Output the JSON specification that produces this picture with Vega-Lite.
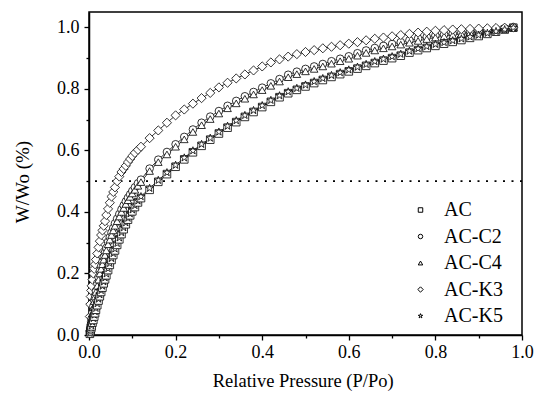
{
  "$schema": "https://vega.github.io/schema/vega-lite/v6.json",
  "width": 433,
  "height": 323,
  "autosize": {"type": "none"},
  "padding": {"left": 89, "top": 12, "right": 13, "bottom": 63},
  "background": "white",
  "config": {
    "font": "serif",
    "view": {"stroke": "black", "strokeWidth": 1.5},
    "axis": {
      "domainColor": "black", "domainWidth": 1.5, "tickColor": "black", "tickWidth": 1.3,
      "tickSize": 5, "labelColor": "black", "titleColor": "black",
      "labelFont": "serif", "titleFont": "serif",
      "labelFontSize": 18, "titleFontWeight": "normal", "grid": false
    }
  },
  "data": {"values": [
    {"p":0.002,"AC":0.004,"AC-C2":0.013,"AC-C4":0.010,"AC-K3":0.060,"AC-K5":0.006},
    {"p":0.003,"AC":0.010,"AC-C2":0.023,"AC-C4":0.020,"AC-K3":0.100,"AC-K5":0.012},
    {"p":0.004,"AC":0.016,"AC-C2":0.033,"AC-C4":0.030,"AC-K3":0.125,"AC-K5":0.018},
    {"p":0.005,"AC":0.022,"AC-C2":0.043,"AC-C4":0.040,"AC-K3":0.145,"AC-K5":0.024},
    {"p":0.006,"AC":0.028,"AC-C2":0.053,"AC-C4":0.050,"AC-K3":0.160,"AC-K5":0.030},
    {"p":0.008,"AC":0.040,"AC-C2":0.073,"AC-C4":0.070,"AC-K3":0.180,"AC-K5":0.042},
    {"p":0.010,"AC":0.049,"AC-C2":0.093,"AC-C4":0.090,"AC-K3":0.200,"AC-K5":0.054},
    {"p":0.012,"AC":0.060,"AC-C2":0.113,"AC-C4":0.110,"AC-K3":0.215,"AC-K5":0.065},
    {"p":0.014,"AC":0.071,"AC-C2":0.128,"AC-C4":0.125,"AC-K3":0.230,"AC-K5":0.076},
    {"p":0.016,"AC":0.082,"AC-C2":0.143,"AC-C4":0.140,"AC-K3":0.245,"AC-K5":0.087},
    {"p":0.019,"AC":0.097,"AC-C2":0.168,"AC-C4":0.160,"AC-K3":0.265,"AC-K5":0.102},
    {"p":0.022,"AC":0.112,"AC-C2":0.188,"AC-C4":0.180,"AC-K3":0.285,"AC-K5":0.117},
    {"p":0.025,"AC":0.126,"AC-C2":0.208,"AC-C4":0.200,"AC-K3":0.305,"AC-K5":0.131},
    {"p":0.028,"AC":0.140,"AC-C2":0.223,"AC-C4":0.215,"AC-K3":0.325,"AC-K5":0.145},
    {"p":0.031,"AC":0.154,"AC-C2":0.238,"AC-C4":0.230,"AC-K3":0.340,"AC-K5":0.159},
    {"p":0.034,"AC":0.168,"AC-C2":0.253,"AC-C4":0.245,"AC-K3":0.355,"AC-K5":0.173},
    {"p":0.037,"AC":0.181,"AC-C2":0.268,"AC-C4":0.260,"AC-K3":0.370,"AC-K5":0.186},
    {"p":0.040,"AC":0.194,"AC-C2":0.283,"AC-C4":0.275,"AC-K3":0.390,"AC-K5":0.199},
    {"p":0.044,"AC":0.211,"AC-C2":0.303,"AC-C4":0.295,"AC-K3":0.410,"AC-K5":0.216},
    {"p":0.048,"AC":0.228,"AC-C2":0.318,"AC-C4":0.310,"AC-K3":0.430,"AC-K5":0.233},
    {"p":0.052,"AC":0.244,"AC-C2":0.333,"AC-C4":0.325,"AC-K3":0.450,"AC-K5":0.249},
    {"p":0.056,"AC":0.260,"AC-C2":0.348,"AC-C4":0.340,"AC-K3":0.465,"AC-K5":0.265},
    {"p":0.060,"AC":0.275,"AC-C2":0.363,"AC-C4":0.355,"AC-K3":0.480,"AC-K5":0.280},
    {"p":0.065,"AC":0.293,"AC-C2":0.378,"AC-C4":0.370,"AC-K3":0.500,"AC-K5":0.298},
    {"p":0.070,"AC":0.311,"AC-C2":0.393,"AC-C4":0.385,"AC-K3":0.515,"AC-K5":0.316},
    {"p":0.075,"AC":0.328,"AC-C2":0.408,"AC-C4":0.400,"AC-K3":0.530,"AC-K5":0.333},
    {"p":0.080,"AC":0.344,"AC-C2":0.421,"AC-C4":0.413,"AC-K3":0.540,"AC-K5":0.349},
    {"p":0.085,"AC":0.360,"AC-C2":0.434,"AC-C4":0.426,"AC-K3":0.550,"AC-K5":0.365},
    {"p":0.090,"AC":0.375,"AC-C2":0.446,"AC-C4":0.438,"AC-K3":0.562,"AC-K5":0.380},
    {"p":0.095,"AC":0.389,"AC-C2":0.457,"AC-C4":0.449,"AC-K3":0.572,"AC-K5":0.394},
    {"p":0.100,"AC":0.402,"AC-C2":0.468,"AC-C4":0.460,"AC-K3":0.582,"AC-K5":0.407},
    {"p":0.106,"AC":0.416,"AC-C2":0.480,"AC-C4":0.472,"AC-K3":0.592,"AC-K5":0.421},
    {"p":0.113,"AC":0.431,"AC-C2":0.493,"AC-C4":0.485,"AC-K3":0.602,"AC-K5":0.436},
    {"p":0.12,"AC":0.445,"AC-C2":0.505,"AC-C4":0.497,"AC-K3":0.612,"AC-K5":0.450},
    {"p":0.14,"AC":0.472,"AC-C2":0.541,"AC-C4":0.533,"AC-K3":0.640,"AC-K5":0.477},
    {"p":0.16,"AC":0.498,"AC-C2":0.570,"AC-C4":0.562,"AC-K3":0.665,"AC-K5":0.503},
    {"p":0.18,"AC":0.523,"AC-C2":0.595,"AC-C4":0.587,"AC-K3":0.690,"AC-K5":0.528},
    {"p":0.20,"AC":0.547,"AC-C2":0.620,"AC-C4":0.612,"AC-K3":0.714,"AC-K5":0.552},
    {"p":0.22,"AC":0.571,"AC-C2":0.644,"AC-C4":0.636,"AC-K3":0.733,"AC-K5":0.576},
    {"p":0.24,"AC":0.594,"AC-C2":0.668,"AC-C4":0.660,"AC-K3":0.752,"AC-K5":0.599},
    {"p":0.26,"AC":0.615,"AC-C2":0.690,"AC-C4":0.682,"AC-K3":0.770,"AC-K5":0.620},
    {"p":0.28,"AC":0.635,"AC-C2":0.710,"AC-C4":0.702,"AC-K3":0.787,"AC-K5":0.640},
    {"p":0.30,"AC":0.655,"AC-C2":0.728,"AC-C4":0.720,"AC-K3":0.805,"AC-K5":0.660},
    {"p":0.32,"AC":0.674,"AC-C2":0.745,"AC-C4":0.737,"AC-K3":0.820,"AC-K5":0.679},
    {"p":0.34,"AC":0.692,"AC-C2":0.761,"AC-C4":0.753,"AC-K3":0.834,"AC-K5":0.697},
    {"p":0.36,"AC":0.709,"AC-C2":0.776,"AC-C4":0.768,"AC-K3":0.847,"AC-K5":0.714},
    {"p":0.38,"AC":0.725,"AC-C2":0.790,"AC-C4":0.782,"AC-K3":0.860,"AC-K5":0.730},
    {"p":0.40,"AC":0.741,"AC-C2":0.804,"AC-C4":0.796,"AC-K3":0.873,"AC-K5":0.746},
    {"p":0.42,"AC":0.758,"AC-C2":0.818,"AC-C4":0.810,"AC-K3":0.886,"AC-K5":0.763},
    {"p":0.44,"AC":0.773,"AC-C2":0.832,"AC-C4":0.824,"AC-K3":0.896,"AC-K5":0.778},
    {"p":0.46,"AC":0.786,"AC-C2":0.846,"AC-C4":0.838,"AC-K3":0.905,"AC-K5":0.791},
    {"p":0.48,"AC":0.797,"AC-C2":0.856,"AC-C4":0.848,"AC-K3":0.913,"AC-K5":0.802},
    {"p":0.50,"AC":0.808,"AC-C2":0.865,"AC-C4":0.857,"AC-K3":0.920,"AC-K5":0.813},
    {"p":0.52,"AC":0.819,"AC-C2":0.873,"AC-C4":0.865,"AC-K3":0.926,"AC-K5":0.824},
    {"p":0.54,"AC":0.829,"AC-C2":0.881,"AC-C4":0.873,"AC-K3":0.932,"AC-K5":0.834},
    {"p":0.56,"AC":0.839,"AC-C2":0.890,"AC-C4":0.882,"AC-K3":0.937,"AC-K5":0.844},
    {"p":0.58,"AC":0.848,"AC-C2":0.898,"AC-C4":0.890,"AC-K3":0.942,"AC-K5":0.853},
    {"p":0.60,"AC":0.857,"AC-C2":0.906,"AC-C4":0.898,"AC-K3":0.947,"AC-K5":0.862},
    {"p":0.62,"AC":0.866,"AC-C2":0.916,"AC-C4":0.908,"AC-K3":0.952,"AC-K5":0.871},
    {"p":0.64,"AC":0.875,"AC-C2":0.925,"AC-C4":0.917,"AC-K3":0.958,"AC-K5":0.880},
    {"p":0.66,"AC":0.884,"AC-C2":0.933,"AC-C4":0.925,"AC-K3":0.963,"AC-K5":0.889},
    {"p":0.68,"AC":0.892,"AC-C2":0.940,"AC-C4":0.932,"AC-K3":0.967,"AC-K5":0.897},
    {"p":0.70,"AC":0.900,"AC-C2":0.946,"AC-C4":0.938,"AC-K3":0.971,"AC-K5":0.905},
    {"p":0.72,"AC":0.908,"AC-C2":0.952,"AC-C4":0.944,"AC-K3":0.975,"AC-K5":0.913},
    {"p":0.74,"AC":0.918,"AC-C2":0.958,"AC-C4":0.950,"AC-K3":0.979,"AC-K5":0.923},
    {"p":0.76,"AC":0.926,"AC-C2":0.964,"AC-C4":0.956,"AC-K3":0.983,"AC-K5":0.931},
    {"p":0.78,"AC":0.933,"AC-C2":0.969,"AC-C4":0.962,"AC-K3":0.986,"AC-K5":0.938},
    {"p":0.80,"AC":0.940,"AC-C2":0.974,"AC-C4":0.967,"AC-K3":0.989,"AC-K5":0.945},
    {"p":0.82,"AC":0.947,"AC-C2":0.977,"AC-C4":0.971,"AC-K3":0.991,"AC-K5":0.951},
    {"p":0.84,"AC":0.953,"AC-C2":0.980,"AC-C4":0.975,"AC-K3":0.993,"AC-K5":0.957},
    {"p":0.86,"AC":0.959,"AC-C2":0.983,"AC-C4":0.979,"AC-K3":0.994,"AC-K5":0.963},
    {"p":0.88,"AC":0.966,"AC-C2":0.986,"AC-C4":0.983,"AC-K3":0.995,"AC-K5":0.969},
    {"p":0.90,"AC":0.972,"AC-C2":0.989,"AC-C4":0.986,"AC-K3":0.996,"AC-K5":0.975},
    {"p":0.92,"AC":0.979,"AC-C2":0.991,"AC-C4":0.989,"AC-K3":0.997,"AC-K5":0.981},
    {"p":0.94,"AC":0.986,"AC-C2":0.994,"AC-C4":0.992,"AC-K3":0.998,"AC-K5":0.987},
    {"p":0.96,"AC":0.993,"AC-C2":0.997,"AC-C4":0.996,"AC-K3":0.999,"AC-K5":0.993},
    {"p":0.98,"AC":0.999,"AC-C2":1.000,"AC-C4":1.000,"AC-K3":1.000,"AC-K5":0.999}
  ]},
  "layer": [
    {
      "data": {"values": [{}]},
      "mark": {"type": "rule", "color": "black", "strokeWidth": 1.8, "strokeDash": [2, 6.5]},
      "encoding": {"y": {"datum": 0.5, "type": "quantitative", "scale": {"domain": [0, 1.05], "nice": false},
        "title": "W/Wo (%)",
        "axis": {
          "values": [0, 0.1, 0.2, 0.3, 0.4, 0.5, 0.6, 0.7, 0.8, 0.9, 1.0],
          "labelExpr": "round(datum.value*10) % 2 == 0 ? format(datum.value, '.1f') : ''",
          "labelFont": "serif", "titleFont": "serif",
          "labelOverlap": false, "labelPadding": 5,
          "titleFontSize": 19, "titleX": -61, "titleY": 169.5, "titleBaseline": "alphabetic",
          "tickSize": {"condition": {"test": "round(datum.value*10) % 2 == 0", "value": 5}, "value": 3}
        }}}
    },
    {
      "transform": [{"fold": ["AC", "AC-C2", "AC-C4", "AC-K3", "AC-K5"], "as": ["series", "w"]}],
      "mark": {"type": "line", "color": "black", "strokeWidth": 0.8},
      "encoding": {
        "x": {"field": "p", "type": "quantitative", "scale": {"domain": [0, 1], "nice": false, "zero": false},
          "title": "Relative Pressure (P/Po)",
          "axis": {
            "values": [0, 0.1, 0.2, 0.3, 0.4, 0.5, 0.6, 0.7, 0.8, 0.9, 1.0],
            "labelExpr": "round(datum.value*10) % 2 == 0 ? format(datum.value, '.1f') : ''",
            "labelFont": "serif", "titleFont": "serif",
            "labelFlush": false, "labelOverlap": false, "labelPadding": 3,
            "titleFontSize": 18.5, "titleX": 213.7, "titleY": 51, "titleBaseline": "alphabetic",
            "tickSize": {"condition": {"test": "round(datum.value*10) % 2 == 0", "value": 5}, "value": 3}
          }
        },
        "y": {"field": "w", "type": "quantitative", "scale": {"domain": [0, 1.05], "nice": false},
          "title": "W/Wo (%)",
          "axis": {
            "values": [0, 0.1, 0.2, 0.3, 0.4, 0.5, 0.6, 0.7, 0.8, 0.9, 1.0],
            "labelExpr": "round(datum.value*10) % 2 == 0 ? format(datum.value, '.1f') : ''",
            "labelFont": "serif", "titleFont": "serif",
            "labelOverlap": false, "labelPadding": 5,
            "titleFontSize": 19, "titleX": -61, "titleY": 169.5, "titleBaseline": "alphabetic",
            "tickSize": {"condition": {"test": "round(datum.value*10) % 2 == 0", "value": 5}, "value": 3}
          }
        },
        "detail": {"field": "series"}
      }
    },
    {
      "transform": [{"fold": ["AC", "AC-C2", "AC-C4", "AC-K3", "AC-K5"], "as": ["series", "w"]}],
      "mark": {"type": "point", "filled": true, "fill": "white", "stroke": "black", "strokeWidth": 0.8, "size": 58, "opacity": 1},
      "encoding": {
        "x": {"field": "p", "type": "quantitative", "scale": {"domain": [0, 1], "nice": false, "zero": false},
          "title": "Relative Pressure (P/Po)",
          "axis": {
            "values": [0, 0.1, 0.2, 0.3, 0.4, 0.5, 0.6, 0.7, 0.8, 0.9, 1.0],
            "labelExpr": "round(datum.value*10) % 2 == 0 ? format(datum.value, '.1f') : ''",
            "labelFont": "serif", "titleFont": "serif",
            "labelFlush": false, "labelOverlap": false, "labelPadding": 3,
            "titleFontSize": 18.5, "titleX": 213.7, "titleY": 51, "titleBaseline": "alphabetic",
            "tickSize": {"condition": {"test": "round(datum.value*10) % 2 == 0", "value": 5}, "value": 3}
          }
        },
        "y": {"field": "w", "type": "quantitative", "scale": {"domain": [0, 1.05], "nice": false},
          "title": "W/Wo (%)",
          "axis": {
            "values": [0, 0.1, 0.2, 0.3, 0.4, 0.5, 0.6, 0.7, 0.8, 0.9, 1.0],
            "labelExpr": "round(datum.value*10) % 2 == 0 ? format(datum.value, '.1f') : ''",
            "labelFont": "serif", "titleFont": "serif",
            "labelOverlap": false, "labelPadding": 5,
            "titleFontSize": 19, "titleX": -61, "titleY": 169.5, "titleBaseline": "alphabetic",
            "tickSize": {"condition": {"test": "round(datum.value*10) % 2 == 0", "value": 5}, "value": 3}
          }
        },
        "shape": {
          "field": "series", "type": "nominal",
          "scale": {
            "domain": ["AC", "AC-C2", "AC-C4", "AC-K3", "AC-K5"],
            "range": ["square", "circle", "triangle-up", "M-1.2,0L0,-1.2L1.2,0L0,1.2Z", "M0,-1.05L0.236,-0.325L0.999,-0.325L0.381,0.124L0.617,0.85L0,0.401L-0.617,0.85L-0.381,0.124L-0.999,-0.325L-0.236,-0.325Z"]
          },
          "legend": {
            "orient": "none", "legendX": 321.5, "legendY": 188, "title": null,
            "labelFontSize": 20, "labelFont": "serif", "labelColor": "black",
            "symbolSize": 20, "symbolStrokeWidth": 1, "labelOffset": 13.5, "rowPadding": 6.5, "padding": 0
          }
        },
        "order": [{"field": "series", "type": "ordinal"}, {"field": "p", "type": "quantitative"}]
      }
    }
  ]
}
